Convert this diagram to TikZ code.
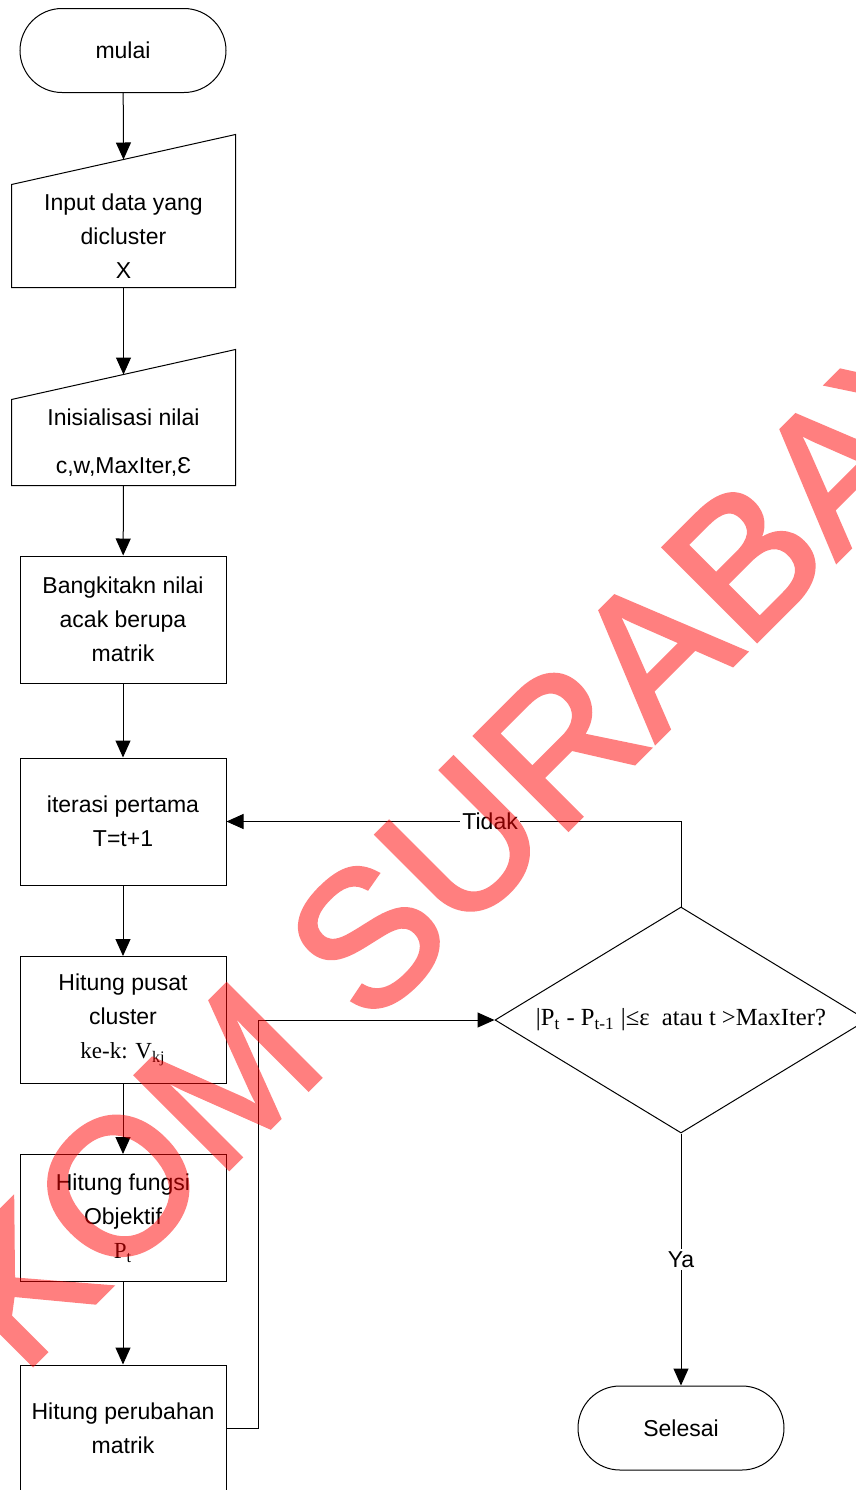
\documentclass[tikz,border=0pt]{standalone}
\usepackage{fontspec}
\setmainfont{Liberation Sans}
\newfontfamily\serifpart{Liberation Serif}
\newfontfamily\stampfont{Liberation Sans}[FakeBold=2]
\usetikzlibrary{shapes.geometric,arrows.meta,calc}

\tikzset{
  flow/.style={draw, line width=0.5pt, align=center, font=\fontsize{11.5}{17}\selectfont},
  terminal/.style={flow, rounded corners=21pt, minimum width=103pt, minimum height=42pt},
  process/.style={flow, minimum width=103pt, minimum height=63.5pt},
  iobox/.style={flow, draw=none, minimum width=111.5pt},
  decision/.style={flow, diamond, aspect=1.65, inner sep=0pt, minimum width=186pt, minimum height=113pt, font=\serifpart\fontsize{12.3}{17}\selectfont},
  line/.style={line width=0.5pt},
  arrow/.style={line, -{Triangle[length=8.5pt,width=7.5pt]}},
  answer/.style={fill=white, inner sep=1pt, font=\fontsize{11.5}{14}\selectfont},
  watermark/.style={text=red, font=\stampfont\fontsize{96}{100}\selectfont}
}

\begin{document}
\begin{tikzpicture}[x=0.5pt,y=-0.5pt]
\useasboundingbox (0,0) rectangle (856,1490);
\clip (0,0) rectangle (856,1490);
% left column
\node[terminal] (mulai) at (123,50.5) {mulai};
\node[iobox, minimum height=51pt] (input) at (123.5,236) {Input data yang\\dicluster\\X};
\draw[line] (input.north west) -- (input.south west) -- (input.south east) -- ([yshift=25pt]input.north east) -- cycle;
\node[iobox, minimum height=42.5pt] (init) at (123.5,442.5) {Inisialisasi nilai\\[7pt]c,w,MaxIter,Ɛ};
\draw[line] (init.north west) -- (init.south west) -- (init.south east) -- ([yshift=25pt]init.north east) -- cycle;
\node[process] (bangkit) at (123,619.5) {Bangkitakn nilai\\acak berupa\\matrik};
\node[process] (iterasi) at (123,821.5) {iterasi pertama\\T=t+1};
\node[process] (pusat) at (123,1020) {Hitung pusat\\cluster\\{\serifpart ke-k: V\textsubscript{kj}}};
\node[process] (fungsi) at (123,1218) {Hitung fungsi\\Objektif\\{\serifpart P\textsubscript{t}}};
\node[process] (ubah) at (123,1428.5) {Hitung perubahan\\matrik};
% right column
\node[decision] (cek) at (681,1020) {|P\textsubscript{t} - P\textsubscript{t-1} |≤ε\ \ atau t >MaxIter?};
\node[terminal] (selesai) at (681,1428) {Selesai};

\draw[arrow] (mulai) -- ($(input.north)+(0,-25)$);
\draw[arrow] (input) -- ($(init.north)+(0,-25)$);
\draw[arrow] (init) -- (bangkit);
\draw[arrow] (bangkit) -- (iterasi);
\draw[arrow] (iterasi) -- (pusat);
\draw[arrow] (pusat) -- (fungsi);
\draw[arrow] (fungsi) -- (ubah);
\draw[arrow] (ubah.east) -- ++(32,0) |- (cek.west);
\draw[arrow] (cek.north) |- node[answer, pos=0.71] {Tidak} (iterasi.east);
\draw[arrow] (cek.south) -- node[answer] {Ya} (selesai.north);

% stamp
\begin{scope}[transparency group, opacity=0.5]
\node[watermark, rotate=45, anchor=base west] (stamp) at (17,1381) {KOM SURABAYA};
\end{scope}
\end{tikzpicture}
\end{document}
